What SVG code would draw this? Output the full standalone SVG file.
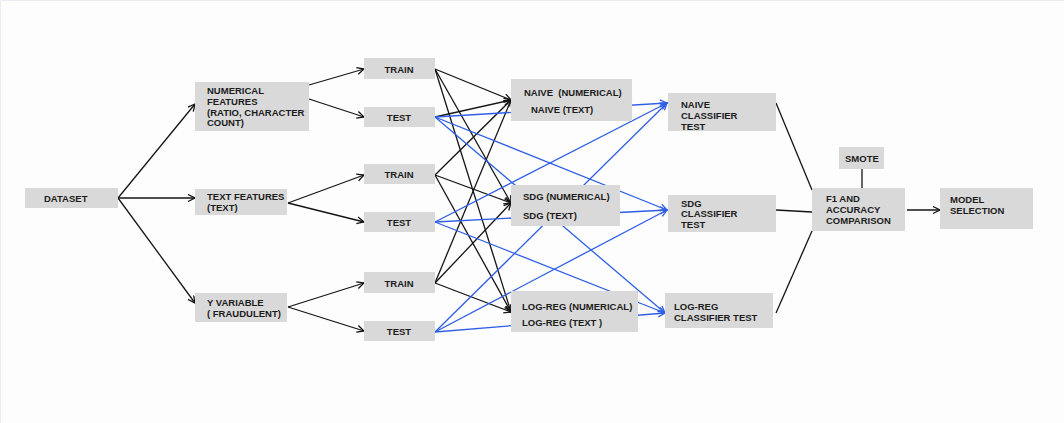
<svg xmlns="http://www.w3.org/2000/svg" width="1064" height="423" viewBox="0 0 1064 423">
  <style>
    .box { fill: #d9d9d9; }
    .lbl { font-family: "Liberation Sans", Arial, sans-serif; font-weight: bold; font-size: 9.5px; fill: #1c1c1c; }
    .ctr { text-anchor: middle; }
    .k { stroke: #151515; stroke-width: 1.3; fill: none; }
    .b { stroke: #2f5ee6; stroke-width: 1.3; fill: none; }
    .k.arr { marker-end: url(#arrowK); }
    .b.arr { marker-end: url(#arrowB); }
  </style>
  <defs>
    <marker id="arrowK" markerUnits="userSpaceOnUse" markerWidth="10" markerHeight="10" refX="8" refY="4" orient="auto">
      <path d="M1,0.5 L8,4 L1,7.5" fill="none" stroke="#151515" stroke-width="1.3"/>
    </marker>
    <marker id="arrowB" markerUnits="userSpaceOnUse" markerWidth="10" markerHeight="10" refX="8" refY="4" orient="auto">
      <path d="M1,0.5 L8,4 L1,7.5" fill="none" stroke="#2f5ee6" stroke-width="1.3"/>
    </marker>
  </defs>

  <rect x="0" y="0" width="1064" height="423" fill="#fdfdfd"/>
  <path d="M0.5,423 L0.5,0.5 L1064,0.5" fill="none" stroke="#ececf4" stroke-width="1"/>

  <!-- connectors, drawn first so the boxes sit on top -->
  <g id="connectors">
    <!-- dataset split -->
    <path class="k arr" d="M118,198 L195,104"/>
    <path class="k arr" d="M118,198 L195,198"/>
    <path class="k arr" d="M118,198 L195,303"/>
    <!-- feature sets to train / test -->
    <path class="k arr" d="M309,85 L364,69"/>
    <path class="k arr" d="M309,99 L364,117"/>
    <path class="k arr" d="M288,203 L364,175"/>
    <path class="k arr" d="M288,203 L364,222"/>
    <path class="k arr" d="M288,307 L364,283"/>
    <path class="k arr" d="M288,307 L364,331"/>
    <!-- training sets to models -->
    <path class="k arr" d="M435,69 L511,100"/>
    <path class="k arr" d="M435,69 L511,203"/>
    <path class="k arr" d="M435,69 L511,312"/>
    <path class="k arr" d="M435,175 L511,100"/>
    <path class="k arr" d="M435,175 L511,203"/>
    <path class="k arr" d="M435,175 L511,312"/>
    <path class="k arr" d="M435,283 L511,100"/>
    <path class="k arr" d="M435,283 L511,203"/>
    <path class="k arr" d="M435,283 L511,312"/>
    <path class="k arr" d="M435,117 L511,100"/>
    <!-- test sets to classifier tests -->
    <path class="b arr" d="M435,117 L667,103"/>
    <path class="b arr" d="M435,117 L667,210"/>
    <path class="b arr" d="M435,117 L665,313"/>
    <path class="b arr" d="M435,222 L667,103"/>
    <path class="b arr" d="M435,222 L667,210"/>
    <path class="b arr" d="M435,222 L665,313"/>
    <path class="b arr" d="M435,332 L667,103"/>
    <path class="b arr" d="M435,332 L667,210"/>
    <path class="b arr" d="M435,332 L665,313"/>
    <!-- results to comparison -->
    <path class="k" d="M776,103 L812,190"/>
    <path class="k" d="M776,210 L812,212"/>
    <path class="k" d="M776,313 L812,231"/>
    <path class="k" d="M862,169 L862,188"/>
    <path class="k arr" d="M907,210 L940,210"/>
  </g>

  <g id="dataset">
    <rect class="box" x="25" y="188" width="93" height="20"/>
    <text class="lbl" x="44" y="201.5">DATASET</text>
  </g>
  <g id="numerical-features">
    <rect class="box" x="195" y="82" width="114" height="49"/>
    <text class="lbl" x="207" y="93.5">NUMERICAL</text>
    <text class="lbl" x="207" y="104.5">FEATURES</text>
    <text class="lbl" x="207" y="115.5">(RATIO, CHARACTER</text>
    <text class="lbl" x="207" y="126">COUNT)</text>
  </g>
  <g id="text-features">
    <rect class="box" x="195" y="189" width="92" height="26"/>
    <text class="lbl" x="207" y="199.5">TEXT FEATURES</text>
    <text class="lbl" x="207" y="210.5">(TEXT)</text>
  </g>
  <g id="y-variable">
    <rect class="box" x="195" y="293" width="92" height="29"/>
    <text class="lbl" x="207" y="305.5">Y VARIABLE</text>
    <text class="lbl" x="207" y="316.5">( FRAUDULENT)</text>
  </g>

  <g id="train-1">
    <rect class="box" x="364" y="58" width="71" height="21"/>
    <text class="lbl ctr" x="399" y="72.5">TRAIN</text>
  </g>
  <g id="test-1">
    <rect class="box" x="364" y="107" width="71" height="20"/>
    <text class="lbl ctr" x="399" y="120.5">TEST</text>
  </g>
  <g id="train-2">
    <rect class="box" x="364" y="164" width="71" height="20"/>
    <text class="lbl ctr" x="399" y="178">TRAIN</text>
  </g>
  <g id="test-2">
    <rect class="box" x="364" y="212" width="71" height="20"/>
    <text class="lbl ctr" x="399" y="226">TEST</text>
  </g>
  <g id="train-3">
    <rect class="box" x="364" y="272" width="71" height="21"/>
    <text class="lbl ctr" x="399" y="286.5">TRAIN</text>
  </g>
  <g id="test-3">
    <rect class="box" x="364" y="321" width="71" height="20"/>
    <text class="lbl ctr" x="399" y="335">TEST</text>
  </g>

  <g id="naive-models">
    <rect class="box" x="511" y="79" width="121" height="42"/>
    <text class="lbl" x="524" y="95.5">NAIVE&#160;&#160;(NUMERICAL)</text>
    <text class="lbl" x="531" y="112.5">NAIVE (TEXT)</text>
  </g>
  <g id="sdg-models">
    <rect class="box" x="511" y="185" width="109" height="41"/>
    <text class="lbl" x="523" y="199.5">SDG (NUMERICAL)</text>
    <text class="lbl" x="523" y="218.5">SDG (TEXT)</text>
  </g>
  <g id="logreg-models">
    <rect class="box" x="511" y="291" width="127" height="41"/>
    <text class="lbl" x="522" y="309.5">LOG-REG (NUMERICAL)</text>
    <text class="lbl" x="522" y="325.5">LOG-REG (TEXT )</text>
  </g>

  <g id="naive-classifier-test">
    <rect class="box" x="668" y="93" width="108" height="38"/>
    <text class="lbl" x="681" y="107.5">NAIVE</text>
    <text class="lbl" x="681" y="118.5">CLASSIFIER</text>
    <text class="lbl" x="681" y="129.5">TEST</text>
  </g>
  <g id="sdg-classifier-test">
    <rect class="box" x="668" y="195" width="108" height="37"/>
    <text class="lbl" x="681" y="206.5">SDG</text>
    <text class="lbl" x="681" y="217">CLASSIFIER</text>
    <text class="lbl" x="681" y="227.5">TEST</text>
  </g>
  <g id="logreg-classifier-test">
    <rect class="box" x="665" y="293" width="108" height="35"/>
    <text class="lbl" x="674" y="309.5">LOG-REG</text>
    <text class="lbl" x="674" y="320.5">CLASSIFIER TEST</text>
  </g>

  <g id="smote">
    <rect class="box" x="839" y="147" width="45" height="22"/>
    <text class="lbl" x="845" y="161.5">SMOTE</text>
  </g>
  <g id="f1-accuracy-comparison">
    <rect class="box" x="812" y="188" width="93" height="43"/>
    <text class="lbl" x="826" y="201.5">F1 AND</text>
    <text class="lbl" x="826" y="212.5">ACCURACY</text>
    <text class="lbl" x="826" y="223.5">COMPARISON</text>
  </g>
  <g id="model-selection">
    <rect class="box" x="940" y="188" width="93" height="41"/>
    <text class="lbl" x="950" y="202.5">MODEL</text>
    <text class="lbl" x="950" y="213.5">SELECTION</text>
  </g>
</svg>
